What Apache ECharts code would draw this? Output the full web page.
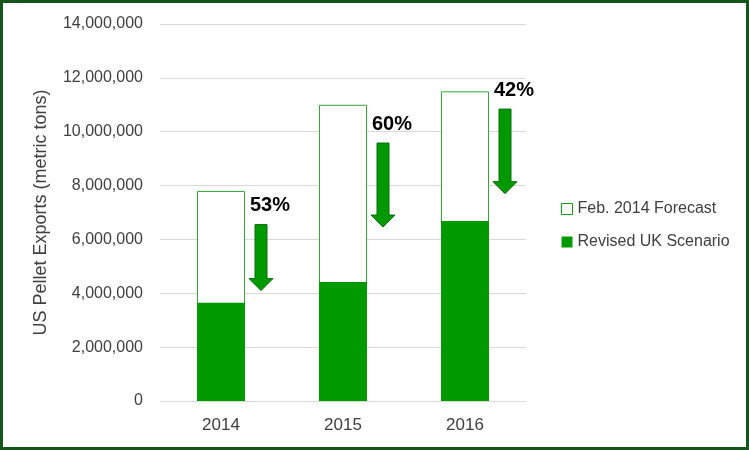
<!DOCTYPE html>
<html><head><meta charset="utf-8">
<script src="https://cdn.jsdelivr.net/npm/echarts@6/dist/echarts.min.js"></script>
<style>
html,body{margin:0;padding:0;background:#fff;}
#wrap{position:absolute;left:0;top:0;width:749px;height:450px;box-sizing:border-box;border:3px solid #14561a;}
#chart{position:absolute;left:0;top:0;width:749px;height:450px;}
</style></head>
<body>
<div id="chart"></div>
<div id="wrap"></div>
<script>
var categories = ['2014', '2015', '2016'];
var forecast = [7800000, 11000000, 11500000];
var revised = [3650000, 4420000, 6680000];
var arrowTop = [6550000, 9580000, 10840000];
var arrowTip = [4100000, 6460000, 7700000];
var pctLabels = ['53%', '60%', '42%'];

var chart = echarts.init(document.getElementById('chart'));
var font = 'Liberation Sans, Arial, sans-serif';
var arrowData = categories.map(function (c, i) { return [i, arrowTop[i], arrowTip[i], pctLabels[i]]; });

chart.setOption({
  animation: false,
  textStyle: { fontFamily: font },
  grid: { left: 160, right: 223, top: 24, bottom: 49 },
  legend: {
    orient: 'vertical', left: 556, top: 196, itemWidth: 11, itemHeight: 11, itemGap: 17,
    textStyle: { fontSize: 16, color: '#404040', fontFamily: font },
    data: [
      { name: 'Feb. 2014 Forecast', icon: 'rect', itemStyle: { color: '#fff', borderColor: '#11a011', borderWidth: 1 } },
      { name: 'Revised UK Scenario', icon: 'rect', itemStyle: { color: '#009900' } }
    ]
  },
  xAxis: {
    type: 'category', data: categories,
    axisLine: { lineStyle: { color: '#d9d9d9' } },
    axisTick: { show: false },
    axisLabel: { fontSize: 17, color: '#404040', margin: 16 }
  },
  yAxis: {
    type: 'value', min: 0, max: 14000000, interval: 2000000,
    name: 'US Pellet Exports (metric tons)', nameLocation: 'middle', nameGap: 110,
    nameTextStyle: { fontSize: 18, color: '#404040' },
    axisLine: { show: false }, axisTick: { show: false },
    splitLine: { lineStyle: { color: '#d9d9d9' } },
    axisLabel: { fontSize: 16, color: '#404040', margin: 17,
      formatter: function (v) { return v.toLocaleString('en-US'); } }
  },
  series: [
    { name: 'Feb. 2014 Forecast', type: 'bar', data: forecast, barWidth: 48, barGap: '-100%',
      itemStyle: { color: '#ffffff', borderColor: '#36a836', borderWidth: 1 } },
    { name: 'Revised UK Scenario', type: 'bar', data: revised, barWidth: 48,
      itemStyle: { color: '#009900' } },
    { name: 'arrows', type: 'custom', data: arrowData, silent: true, z: 10,
      renderItem: function (params, api) {
        var top = api.coord([api.value(0), api.value(1)]);
        var tip = api.coord([api.value(0), api.value(2)]);
        var cx = top[0] + 40;
        var sw = 6, hw = 12, hh = 12;
        var y0 = top[1], y1 = tip[1];
        var pts = [[cx - sw, y0], [cx + sw, y0], [cx + sw, y1 - hh], [cx + hw, y1 - hh], [cx, y1], [cx - hw, y1 - hh], [cx - sw, y1 - hh]];
        return { type: 'group', children: [
          { type: 'polygon', shape: { points: pts }, style: { fill: '#009900', stroke: '#0a6e0a', lineWidth: 1 } },
          { type: 'text', style: { text: pctLabels[params.dataIndex], x: cx - 11, y: y0 - 19, verticalAlign: 'middle', align: 'left',
            font: 'bold 20px ' + font, fill: '#000' } }
        ] };
      }
    }
  ]
});
</script>
</body></html>
